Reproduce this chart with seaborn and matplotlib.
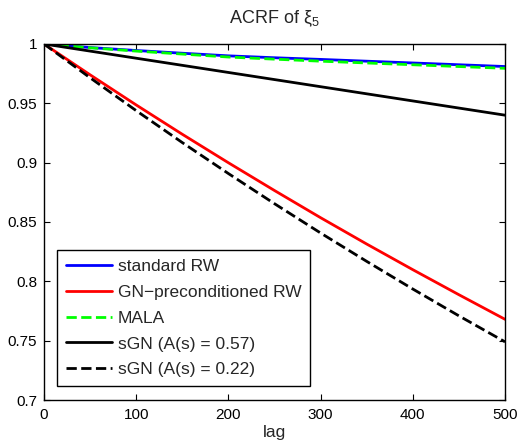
import matplotlib
matplotlib.use("Agg")
import matplotlib.pyplot as plt
import seaborn as sns
import pandas as pd

# Autocorrelation of xi_5 versus lag for each sampler
lags = [0, 50, 100, 150, 200, 250, 300, 350, 400, 450, 500]
standard_rw = [1.0, 0.9970, 0.9945, 0.9922, 0.9900, 0.9884, 0.9870, 0.9855, 0.9840, 0.9825, 0.9810]
gn_rw = [1.0, 0.9740, 0.9486, 0.9239, 0.8999, 0.8765, 0.8536, 0.8314, 0.8098, 0.7887, 0.7680]
mala = [1.0, 0.9968, 0.9940, 0.9915, 0.9890, 0.9872, 0.9855, 0.9840, 0.9825, 0.9810, 0.9795]
sgn_057 = [1.0, 0.994, 0.988, 0.982, 0.976, 0.970, 0.964, 0.958, 0.952, 0.946, 0.940]
sgn_022 = [1.0, 0.9715, 0.9438, 0.9169, 0.8908, 0.8654, 0.8407, 0.8168, 0.7935, 0.7709, 0.7490]

series = [
    ("standard RW", standard_rw, "#0000ff", "-"),
    ("GN\u2212preconditioned RW", gn_rw, "#ff0000", "-"),
    ("MALA", mala, "#00ff00", "--"),
    ("sGN (A(s) = 0.57)", sgn_057, "#000000", "-"),
    ("sGN (A(s) = 0.22)", sgn_022, "#000000", "--"),
]

FS = 12.5
TICK_FS = 11

sns.set_style("ticks")
plt.rcParams["font.family"] = ["Liberation Sans", "DejaVu Sans"]
plt.rcParams["mathtext.fontset"] = "custom"
plt.rcParams["mathtext.rm"] = "Liberation Sans"
plt.rcParams["mathtext.it"] = "Liberation Sans"
plt.rcParams["xtick.direction"] = "in"
plt.rcParams["ytick.direction"] = "in"
plt.rcParams["xtick.top"] = True
plt.rcParams["ytick.right"] = True

fig = plt.figure(figsize=(5.18, 4.42), dpi=100)
ax = fig.add_axes([0.085, 0.095, 0.89, 0.8055])

for name, vals, color, ls in series:
    df = pd.DataFrame({"lag": lags, "acrf": vals})
    sns.lineplot(data=df, x="lag", y="acrf", ax=ax, color=color,
                 linestyle=ls, linewidth=2.0, label=name)

ax.set_xlim(0, 500)
ax.set_ylim(0.7, 1.0)
ax.set_xticks([0, 100, 200, 300, 400, 500])
ax.set_yticks([0.7, 0.75, 0.8, 0.85, 0.9, 0.95, 1.0])
ax.set_yticklabels(["0.7", "0.75", "0.8", "0.85", "0.9", "0.95", "1"])
ax.tick_params(axis="both", which="major", length=4, width=0.8,
               labelsize=TICK_FS, color="black", labelcolor="black")
ax.tick_params(axis="x", pad=6)
ax.tick_params(axis="y", pad=5)
for sp in ax.spines.values():
    sp.set_visible(True)
    sp.set_color("black")
    sp.set_linewidth(1.0)

ax.set_xlabel("lag", fontsize=FS, labelpad=2)
ax.set_ylabel("")
ax.set_title(r"ACRF of $\mathregular{\xi_5}$", fontsize=13, pad=15)

leg = ax.legend(loc="lower left", bbox_to_anchor=(0.028, 0.039),
                borderaxespad=0, fontsize=FS, frameon=True, fancybox=False,
                handlelength=2.7, handletextpad=0.3, labelspacing=0.62,
                borderpad=0.5)
leg.get_frame().set_edgecolor("black")
leg.get_frame().set_linewidth(1.0)
leg.get_frame().set_alpha(1.0)

fig.savefig("out.png", dpi=100)
